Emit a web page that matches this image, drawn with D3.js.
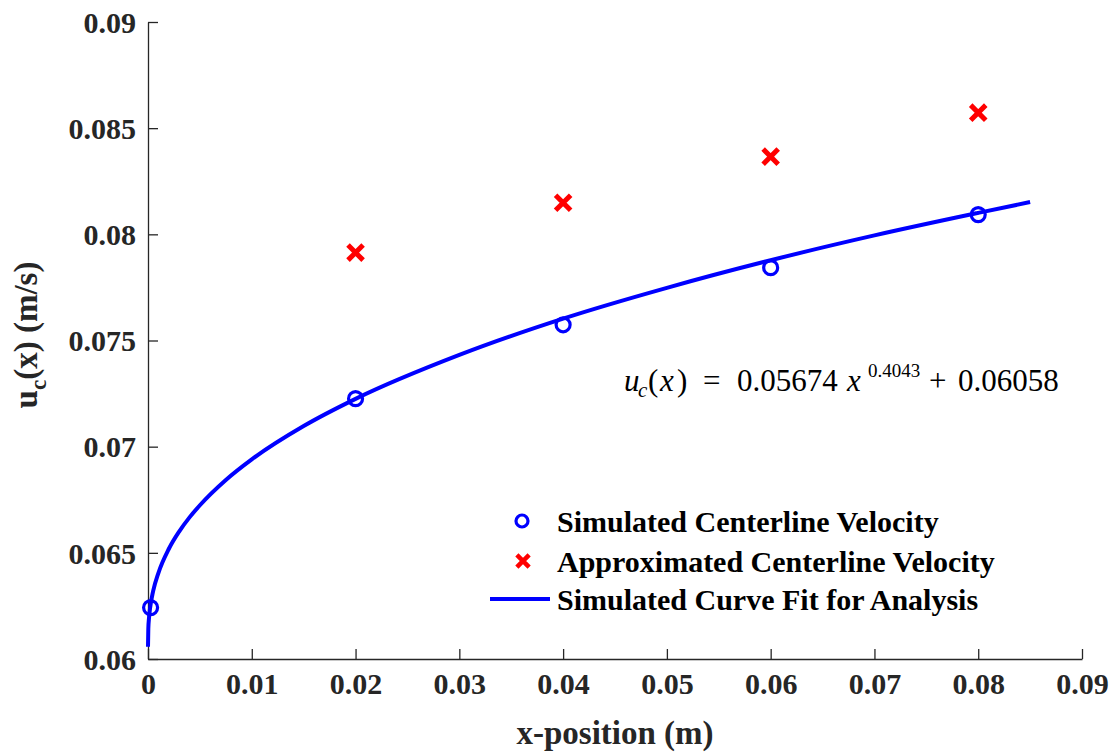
<!DOCTYPE html>
<html>
<head>
<meta charset="utf-8">
<script src="https://cdn.jsdelivr.net/npm/d3@7"></script>
<style>
  body { margin: 0; background: #fff; }
  svg { display: block; font-family: "Liberation Serif", "Times New Roman", serif; }
</style>
</head>
<body>
<svg id="chart"></svg>
<script>
const width = 1115;
const height = 755;

// ---- data ----
const simX = [0.00025, 0.02, 0.04, 0.06, 0.08];
const simY = [0.06242, 0.07226, 0.07574, 0.07843, 0.08093];

const approxX = [0.02, 0.04, 0.06, 0.08];
const approxY = [0.07914, 0.08149, 0.08366, 0.08573];

// curve fit, sampled from the drawn line
const fitX = [0, 0.00003, 0.0001, 0.0002, 0.0005, 0.001, 0.002, 0.003, 0.004, 0.005, 0.0075, 0.01, 0.015, 0.02, 0.03, 0.04, 0.05, 0.06, 0.07, 0.08, 0.085];
const fitY = [0.06058, 0.06142, 0.06195, 0.06240, 0.06321, 0.06405, 0.06518, 0.06600, 0.06667, 0.06724, 0.06843, 0.06940, 0.07097, 0.07225, 0.07432, 0.07603, 0.07748, 0.07878, 0.07995, 0.08101, 0.08152];

const xTicks = [0, 0.01, 0.02, 0.03, 0.04, 0.05, 0.06, 0.07, 0.08, 0.09];
const yTicks = [0.06, 0.065, 0.07, 0.075, 0.08, 0.085, 0.09];

const legendLabels = [
  "Simulated Centerline Velocity",
  "Approximated Centerline Velocity",
  "Simulated Curve Fit for Analysis"
];

// ---- layout ----
const M = { left: 148, right: 1082, top: 22, bottom: 659 };
const AXIS = "#262626";

const svg = d3.select("#chart")
  .attr("width", width)
  .attr("height", height);

const x = d3.scaleLinear().domain([0, 0.09]).range([M.left, M.right]);
const y = d3.scaleLinear().domain([0.06, 0.09]).range([M.bottom, M.top]);

const fmt = d => String(+d.toFixed(3));

/* axes */
const xAxis = svg.append("g")
  .attr("transform", `translate(0,${M.bottom})`)
  .call(d3.axisBottom(x).tickValues(xTicks).tickFormat(fmt).tickSizeInner(-10).tickSizeOuter(0).tickPadding(14));

const yAxis = svg.append("g")
  .attr("transform", `translate(${M.left},0)`)
  .call(d3.axisLeft(y).tickValues(yTicks).tickFormat(fmt).tickSizeInner(-10).tickSizeOuter(0).tickPadding(12));

[xAxis, yAxis].forEach(g => {
  g.select(".domain").attr("stroke", AXIS).attr("stroke-width", 1.3);
  g.selectAll(".tick line").attr("stroke", AXIS).attr("stroke-width", 1.3);
  g.selectAll(".tick text")
    .attr("fill", AXIS)
    .style("font-family", "'Liberation Serif', serif")
    .style("font-weight", "bold")
    .style("font-size", "30px");
});
xAxis.selectAll(".tick text").attr("dy", "0.71em");
yAxis.selectAll(".tick text").attr("dy", "0.34em");

/* axis labels */
svg.append("text")
  .attr("x", (M.left + M.right) / 2)
  .attr("y", 744)
  .attr("text-anchor", "middle")
  .attr("fill", AXIS)
  .style("font-weight", "bold")
  .style("font-size", "33px")
  .text("x-position (m)");

const yl = svg.append("text")
  .attr("transform", `translate(37,335) rotate(-90)`)
  .attr("text-anchor", "middle")
  .attr("fill", AXIS)
  .style("font-weight", "bold")
  .style("font-size", "33px");
yl.append("tspan").text("u");
yl.append("tspan").attr("dy", 9).style("font-size", "23px").text("c");
yl.append("tspan").attr("dy", -9).text("(x) (m/s)");

/* curve fit */
const fitData = fitX.map((v, i) => [v, fitY[i]]);
svg.append("path")
  .datum(fitData)
  .attr("fill", "none")
  .attr("stroke", "#0000ff")
  .attr("stroke-width", 4)
  .attr("d", d3.line().x(d => x(d[0])).y(d => y(d[1])).curve(d3.curveMonotoneX));

/* simulated circles */
svg.append("g")
  .selectAll("circle")
  .data(simX.map((v, i) => [v, simY[i]]))
  .enter()
  .append("circle")
  .attr("cx", d => x(d[0]))
  .attr("cy", d => y(d[1]))
  .attr("r", 7)
  .attr("fill", "none")
  .attr("stroke", "#0000ff")
  .attr("stroke-width", 3.2);

/* approximated crosses */
const cross = d3.symbol().type(d3.symbolX).size(150);
svg.append("g")
  .selectAll("path")
  .data(approxX.map((v, i) => [v, approxY[i]]))
  .enter()
  .append("path")
  .attr("transform", d => `translate(${x(d[0])},${y(d[1])})`)
  .attr("d", cross)
  .attr("fill", "none")
  .attr("stroke", "#ff0000")
  .attr("stroke-width", 5);

/* equation */
const eq = svg.append("text")
  .attr("y", 391)
  .attr("fill", "#000")
  .style("font-size", "31px");
const eqParts = [
  { t: "u", x: 624, it: true },
  { t: "c", x: 638, it: true, sub: true },
  { t: "(", x: 648 },
  { t: "x", x: 660, it: true },
  { t: ")", x: 677 },
  { t: "=", x: 703 },
  { t: "0.05674", x: 737 },
  { t: "x", x: 847, it: true },
  { t: "0.4043", x: 868, sup: true },
  { t: "+", x: 929 },
  { t: "0.06058", x: 958 }
];
eqParts.forEach(p => {
  eq.append("tspan")
    .attr("x", p.x)
    .attr("y", p.sub ? 397 : p.sup ? 377 : 391)
    .style("font-style", p.it ? "italic" : "normal")
    .style("font-size", p.sub ? "21px" : p.sup ? "19px" : "31px")
    .text(p.t);
});

/* legend */
const lg = svg.append("g");
const rowY = [521, 561, 599];
const legendCross = d3.symbol().type(d3.symbolX).size(100);
lg.append("circle").attr("cx", 522).attr("cy", rowY[0]).attr("r", 6)
  .attr("fill", "none").attr("stroke", "#0000ff").attr("stroke-width", 3.2);
lg.append("path").attr("transform", `translate(523,${rowY[1]})`).attr("d", legendCross)
  .attr("fill", "none").attr("stroke", "#ff0000").attr("stroke-width", 4.5);
lg.append("line").attr("x1", 490).attr("x2", 550).attr("y1", rowY[2]).attr("y2", rowY[2])
  .attr("stroke", "#0000ff").attr("stroke-width", 4);

lg.selectAll("text")
  .data(legendLabels)
  .enter()
  .append("text")
  .attr("x", 557)
  .attr("y", (d, i) => rowY[i])
  .attr("dy", "0.35em")
  .attr("fill", "#000")
  .style("font-weight", "bold")
  .style("font-size", "30px")
  .text(d => d);
</script>
</body>
</html>
